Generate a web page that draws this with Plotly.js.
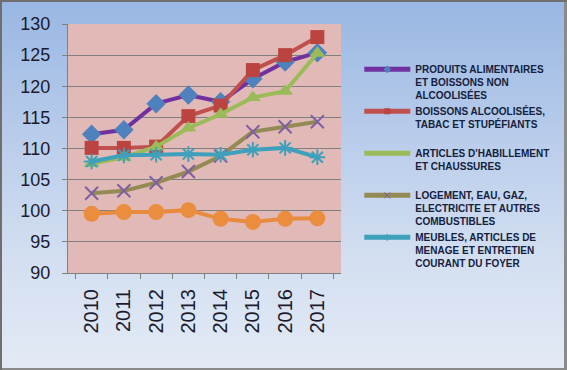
<!DOCTYPE html>
<html>
<head>
<meta charset="utf-8">
<script src="https://cdn.plot.ly/plotly-3.0.1.min.js"></script>
<style>
  html, body { margin:0; padding:0; background:#ffffff; }
  #wrap {
    position: relative; width:567px; height:370px; overflow:hidden;
    background: linear-gradient(to bottom, #98b7e3 0%, #b7cbea 35%, #d3dff1 70%, #e3eaf5 100%);
    box-shadow: inset 2px 2px 0 0 #6f6f6f, inset -3px -2px 0 0 #8a8a8a;
  }
  #chart { position:absolute; left:0; top:0; width:567px; height:370px; }
</style>
</head>
<body>
<div id="wrap"><div id="chart"></div></div>
<script>
const years = ['2010','2011','2012','2013','2014','2015','2016','2017'];

const seriesNames = [
  'PRODUITS ALIMENTAIRES<br>ET BOISSONS NON<br>ALCOOLISÉES',
  'BOISSONS ALCOOLISÉES,<br>TABAC ET STUPÉFIANTS<br>\u00a0',
  "ARTICLES D'HABILLEMENT<br>ET CHAUSSURES<br>\u00a0",
  'LOGEMENT, EAU, GAZ,<br>ELECTRICITE ET AUTRES<br>COMBUSTIBLES',
  'MEUBLES, ARTICLES DE<br>MENAGE ET ENTRETIEN<br>COURANT DU FOYER',
  'SANTÉ'
];

const alimentaires = [112.3, 113.0, 117.2, 118.6, 117.5, 121.2, 123.9, 125.4];
const alcool       = [110.1, 110.1, 110.3, 115.2, 116.9, 122.6, 125.0, 127.9];
const habillement  = [107.6, 108.6, 110.3, 113.3, 115.5, 118.2, 119.2, 125.3];
const logement     = [102.8, 103.2, 104.5, 106.3, 108.8, 112.7, 113.5, 114.3];
const meubles      = [107.9, 108.9, 109.0, 109.1, 109.0, 109.8, 110.1, 108.6];
const sante        = [99.5, 99.8, 99.8, 100.1, 98.7, 98.2, 98.7, 98.8];

const values = [alimentaires, alcool, habillement, logement, meubles, sante];
const lineColors   = ['#7030a0', '#c0504d', '#9bbb59', '#948a54', '#3fa0bb', '#e88b3c'];
const markerColors = ['#4f81bd', '#bb4440', '#9bbb59', '#7f60a0', '#3fa0bb', '#ea8d3f'];
const symbols = ['diamond', 'square', 'triangle-up', 'x-thin-open', 'asterisk-open', 'circle'];
const sizes = [15, 14, 14, 13, 13, 16];

const dataTraces = values.map((v, i) => {
  const open = symbols[i].indexOf('open') >= 0;
  return {
    x: years, y: v, name: seriesNames[i], type: 'scatter', mode: 'lines+markers',
    showlegend: false,
    line: { color: lineColors[i], width: 4 },
    marker: { symbol: symbols[i], size: sizes[i], color: markerColors[i],
              line: { color: markerColors[i], width: open ? 2 : 0 } }
  };
});

// legend-only entries (small markers, as in the reference legend)
const legendTraces = values.slice(0, 5).map((v, i) => {
  const open = symbols[i].indexOf('open') >= 0;
  return {
    x: [null], y: [null], name: seriesNames[i], type: 'scatter', mode: 'lines+markers',
    showlegend: true, hoverinfo: 'skip',
    line: { color: lineColors[i], width: 5 },
    marker: { symbol: symbols[i], size: 6, color: markerColors[i],
              line: { color: markerColors[i], width: open ? 1 : 0 } }
  };
});

const layout = {
  width: 567, height: 370,
  margin: { l: 68, r: 201, t: 24, b: 97 },
  paper_bgcolor: 'rgba(0,0,0,0)',
  plot_bgcolor: '#e1bab8',
  font: { family: 'Liberation Sans, Arial, sans-serif', color: '#1b1b2e' },
  xaxis: {
    type: 'category', tickangle: -90, tickson: 'boundaries',
    ticks: 'outside', ticklen: 5, tickcolor: '#808080',
    showline: true, linecolor: '#808080', linewidth: 1,
    showgrid: false, tickfont: { size: 20, color: '#1b1b2e' },
    ticklabelstandoff: 7,
    fixedrange: true
  },
  yaxis: {
    range: [90, 130], dtick: 5, tick0: 90,
    ticks: 'outside', ticklen: 5, tickcolor: '#808080',
    showline: true, linecolor: '#808080', linewidth: 1,
    gridcolor: '#808080', gridwidth: 1, zeroline: false,
    tickfont: { size: 18, color: '#1b1b2e' }, ticklabelstandoff: 8,
    fixedrange: true
  },
  legend: {
    x: 1.067, xanchor: 'left', y: 0.87, yanchor: 'top',
    bgcolor: 'rgba(0,0,0,0)', borderwidth: 0,
    itemwidth: 46, valign: 'top', tracegroupgap: 0,
    font: { size: 10, weight: 'bold', color: '#14213d', family: 'Liberation Sans, Arial, sans-serif' }
  },
  showlegend: true
};

Plotly.newPlot('chart', dataTraces.concat(legendTraces), layout, { displayModeBar: false, staticPlot: true });
</script>
</body>
</html>
